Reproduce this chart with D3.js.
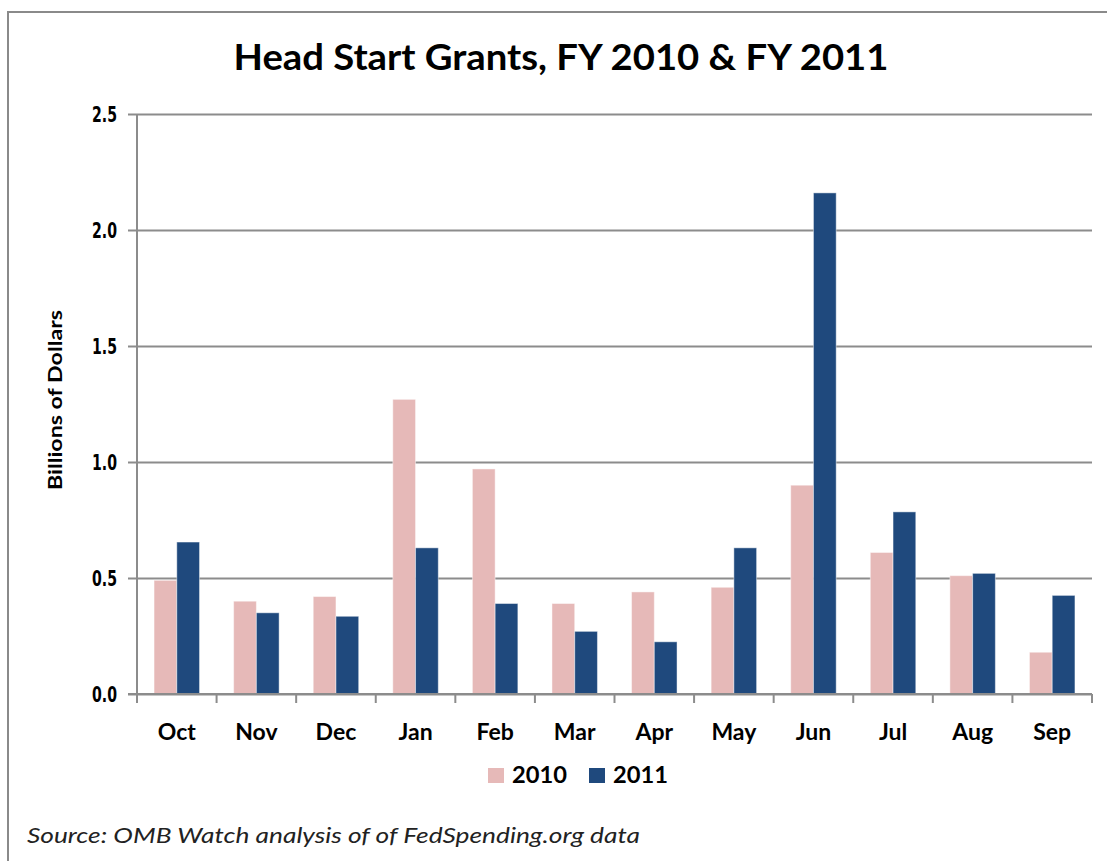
<!DOCTYPE html>
<html>
<head>
<meta charset="utf-8">
<script src="https://d3js.org/d3.v7.min.js"></script>
<style>
  html, body { margin: 0; padding: 0; background: #fff; }
  svg { display: block; }
</style>
</head>
<body>
<svg id="chart" width="1107" height="861"></svg>
<script>
// Head Start grants by month, billions of dollars
var months = ["Oct", "Nov", "Dec", "Jan", "Feb", "Mar", "Apr", "May", "Jun", "Jul", "Aug", "Sep"];
var seriesNames = ["2010", "2011"];
var fy2010 = [0.49, 0.40, 0.42, 1.27, 0.97, 0.39, 0.44, 0.46, 0.90, 0.61, 0.51, 0.18];
var fy2011 = [0.655, 0.35, 0.335, 0.63, 0.39, 0.27, 0.225, 0.63, 2.16, 0.785, 0.52, 0.425];
var yTicks = [0, 0.5, 1.0, 1.5, 2.0, 2.5];
var colors = ["#E6B9B8", "#1F497D"];

var svg = d3.select("#chart");
var margin = { left: 137, right: 1092, top: 114, bottom: 694 };
var gridColor = "#8c8c8c";
var bodyFont = "Lato, 'Open Sans', sans-serif";

function fitText(sel, width) {
  /* Squeeze the text to the width the Calibri original takes. */
  sel.attr("textLength", width).attr("lengthAdjust", "spacingAndGlyphs");
}

// outer frame (only top and left edges show in the picture)
svg.append("rect")
  .attr("x", 8).attr("y", 12)
  .attr("width", 1120).attr("height", 880)
  .style("fill", "none")
  .style("stroke", "#8a8a8a")
  .style("stroke-width", 2);

var x0 = d3.scaleBand()
  .domain(months)
  .range([margin.left, margin.right])
  .padding(0);

var x1 = d3.scaleBand()
  .domain(seriesNames)
  .range([0, x0.bandwidth()])
  .paddingInner(0)
  .paddingOuter(0.75);

var y = d3.scaleLinear()
  .domain([0, 2.5])
  .range([margin.bottom, margin.top]);

// gridlines + y axis
var yAxis = d3.axisLeft(y)
  .tickValues(yTicks)
  .tickFormat(d3.format(".1f"))
  .tickSize(-(margin.right - margin.left))
  .tickPadding(0);

var gy = svg.append("g")
  .attr("transform", "translate(" + margin.left + ",0)")
  .call(yAxis);
gy.select(".domain").remove();
gy.selectAll(".tick line")
  .attr("x1", -9)
  .style("stroke", gridColor)
  .style("stroke-width", 2);
gy.selectAll(".tick text")
  .attr("x", -20)
  .attr("dy", "0.36em")
  .style("font-family", "'DejaVu Sans', sans-serif")
  .style("font-weight", "bold")
  .style("font-size", "21px")
  .style("fill", "#000")
  .call(fitText, 25);

svg.append("line")
  .attr("x1", margin.left).attr("x2", margin.left)
  .attr("y1", margin.top).attr("y2", margin.bottom)
  .style("stroke", gridColor)
  .style("stroke-width", 2);

// bars
var groups = svg.append("g")
  .selectAll("g")
  .data(months)
  .enter().append("g")
    .attr("transform", function(d) { return "translate(" + x0(d) + ",0)"; });

groups.selectAll("rect")
  .data(function(d, i) {
    return [
      { name: seriesNames[0], value: fy2010[i] },
      { name: seriesNames[1], value: fy2011[i] }
    ];
  })
  .enter().append("rect")
    .attr("x", function(d) { return x1(d.name); })
    .attr("y", function(d) { return y(d.value); })
    .attr("width", x1.bandwidth())
    .attr("height", function(d) { return y(0) - y(d.value); })
    .style("fill", function(d, i) { return colors[i]; })
    .style("stroke", "rgba(255,255,255,0.45)")
    .style("stroke-width", 1);

// x axis
var xAxis = d3.axisBottom(x0).tickSize(0).tickPadding(0);
var gx = svg.append("g")
  .attr("transform", "translate(0," + margin.bottom + ")")
  .call(xAxis);
gx.select(".domain").remove();
gx.selectAll(".tick text")
  .attr("y", 46)
  .attr("dy", 0)
  .style("font-family", bodyFont)
  .style("font-weight", "bold")
  .style("font-size", "23px")
  .style("fill", "#000");

svg.append("line")
  .attr("x1", margin.left - 9).attr("x2", margin.right)
  .attr("y1", margin.bottom).attr("y2", margin.bottom)
  .style("stroke", gridColor)
  .style("stroke-width", 2);

var boundaries = months.map(function(m) { return x0(m); }).concat([margin.right]);
svg.append("g")
  .selectAll("line")
  .data(boundaries)
  .enter().append("line")
    .attr("x1", function(d) { return d; })
    .attr("x2", function(d) { return d; })
    .attr("y1", margin.bottom)
    .attr("y2", margin.bottom + 9)
    .style("stroke", gridColor)
    .style("stroke-width", 2);

// title
svg.append("text")
  .attr("x", 561)
  .attr("y", 70)
  .attr("text-anchor", "middle")
  .style("font-family", bodyFont)
  .style("font-weight", "bold")
  .style("font-size", "37px")
  .text("Head Start Grants, FY 2010 & FY 2011")
  .call(fitText, 655);

// y axis title
svg.append("text")
  .attr("transform", "translate(62,400) rotate(-90)")
  .attr("text-anchor", "middle")
  .style("font-family", bodyFont)
  .style("font-weight", "bold")
  .style("font-size", "18px")
  .text("Billions of Dollars")
  .call(fitText, 180);

// legend
var legend = svg.append("g")
  .selectAll("g")
  .data(seriesNames)
  .enter().append("g")
    .attr("transform", function(d, i) { return "translate(" + (488 + i * 101) + ",768)"; });

legend.append("rect")
  .attr("width", 16).attr("height", 15)
  .style("fill", function(d, i) { return colors[i]; });

legend.append("text")
  .attr("x", 24)
  .attr("y", 15)
  .style("font-family", bodyFont)
  .style("font-weight", "bold")
  .style("font-size", "23px")
  .text(function(d) { return d; })
  .call(fitText, 55);

// source note
svg.append("text")
  .attr("x", 27)
  .attr("y", 843)
  .style("font-family", bodyFont)
  .style("font-style", "italic")
  .style("font-size", "21px")
  .style("fill", "#222")
  .text("Source: OMB Watch analysis of of FedSpending.org data")
  .call(fitText, 613);
</script>
</body>
</html>
